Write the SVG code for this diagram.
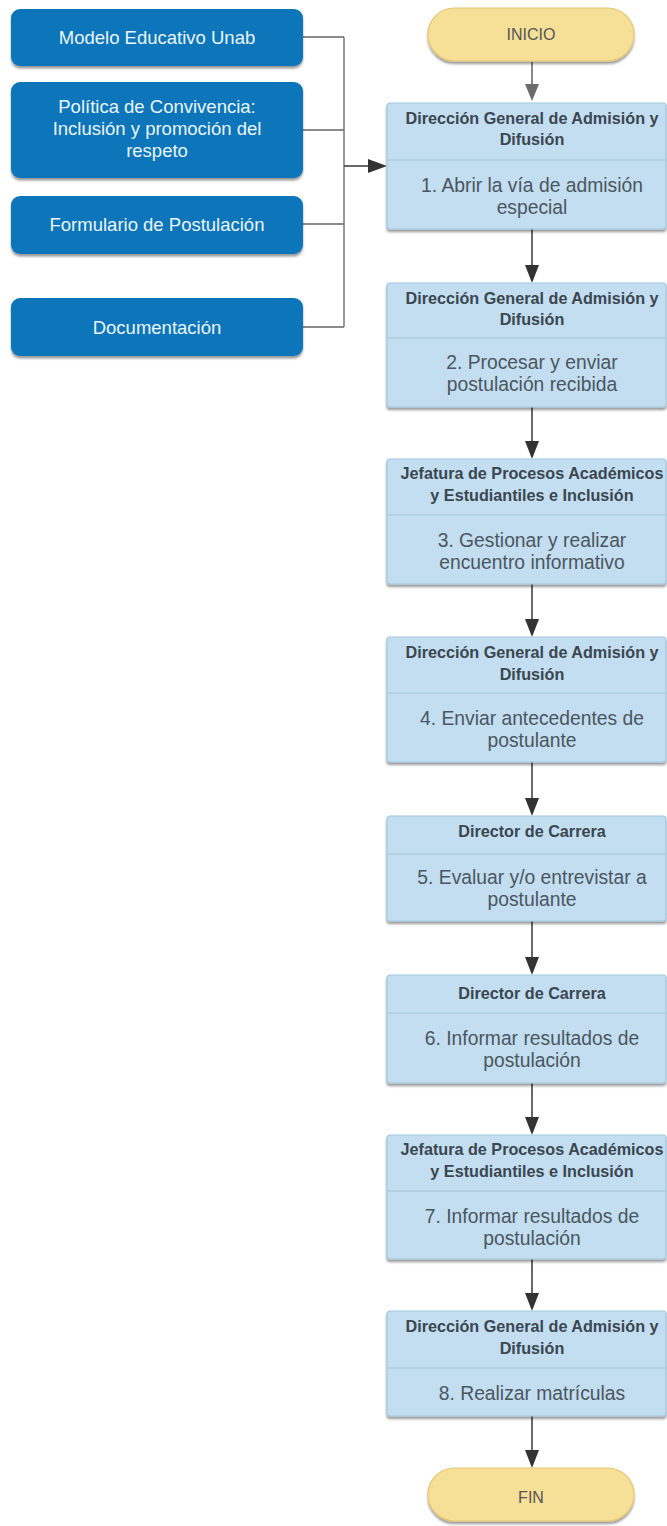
<svg xmlns="http://www.w3.org/2000/svg" width="667" height="1526" viewBox="0 0 667 1526">
<style>
.src{fill:#0e74b9;}
.srct{fill:#eaf5fc;font-family:"Liberation Sans",Arial,sans-serif;font-size:18.5px;text-anchor:middle;dominant-baseline:central;}
.box{fill:#c2def0;stroke:#a3c7de;stroke-width:1.2;}
.div{stroke:#9ec4dc;stroke-width:1.2;}
.hd{fill:#3b4650;font-family:"Liberation Sans",Arial,sans-serif;font-size:16.2px;font-weight:bold;text-anchor:middle;dominant-baseline:central;}
.bd{fill:#4b5660;font-family:"Liberation Sans",Arial,sans-serif;font-size:19.3px;text-anchor:middle;dominant-baseline:central;}
.pill{fill:#f6df96;stroke:#e6c772;stroke-width:1.2;}
.pt{fill:#555;font-family:"Liberation Sans",Arial,sans-serif;font-size:16px;text-anchor:middle;dominant-baseline:central;}
.ln{fill:none;stroke:#444;stroke-width:1.6;}
.lg{fill:none;stroke:#666;stroke-width:1.3;}
</style>
<defs>
<filter id="sh" x="-10%" y="-10%" width="120%" height="130%">
<feDropShadow dx="0" dy="2.5" stdDeviation="1.2" flood-color="#000" flood-opacity="0.4"/>
</filter>
</defs>

<g id="connectors">
<path class="lg" d="M303,37 H344 M303,130 H344 M303,224 H344 M303,327 H344 M344,37 V327"/>
<path d="M344,166 H368" class="ln"/>
<path d="M368,159 L387,166 L368,173 Z" fill="#333"/>
<line x1="532" y1="62" x2="532" y2="84" stroke="#6a6a6a" stroke-width="1.6"/>
<path d="M525,84 L532,101 L539,84 Z" fill="#6a6a6a"/>
<line x1="532" y1="229" x2="532" y2="266" class="ln"/>
<path d="M525,265 L532,283 L539,265 Z" fill="#333"/>
<line x1="532" y1="407" x2="532" y2="442" class="ln"/>
<path d="M525,441 L532,459 L539,441 Z" fill="#333"/>
<line x1="532" y1="584" x2="532" y2="620" class="ln"/>
<path d="M525,619 L532,637 L539,619 Z" fill="#333"/>
<line x1="532" y1="762" x2="532" y2="799" class="ln"/>
<path d="M525,798 L532,816 L539,798 Z" fill="#333"/>
<line x1="532" y1="921" x2="532" y2="958" class="ln"/>
<path d="M525,957 L532,975 L539,957 Z" fill="#333"/>
<line x1="532" y1="1083" x2="532" y2="1118" class="ln"/>
<path d="M525,1117 L532,1135 L539,1117 Z" fill="#333"/>
<line x1="532" y1="1259" x2="532" y2="1294" class="ln"/>
<path d="M525,1293 L532,1311 L539,1293 Z" fill="#333"/>
<line x1="532" y1="1416" x2="532" y2="1451" class="ln"/>
<path d="M525,1450 L532,1468 L539,1450 Z" fill="#333"/>
</g>

<g id="src1"><rect class="src" x="11" y="9" width="292" height="57" rx="9" filter="url(#sh)"/><text class="srct" x="157" y="37">Modelo Educativo Unab</text></g>
<g id="src2"><rect class="src" x="11" y="82" width="292" height="96" rx="9" filter="url(#sh)"/>
<text class="srct" x="157" y="106">Política de Convivencia:</text>
<text class="srct" x="157" y="128">Inclusión y promoción del</text>
<text class="srct" x="157" y="150">respeto</text></g>
<g id="src3"><rect class="src" x="11" y="196" width="292" height="58" rx="9" filter="url(#sh)"/><text class="srct" x="157" y="224">Formulario de Postulación</text></g>
<g id="src4"><rect class="src" x="11" y="298" width="292" height="58" rx="9" filter="url(#sh)"/><text class="srct" x="157" y="327">Documentación</text></g>

<g id="inicio"><rect class="pill" x="428" y="8" width="206" height="53" rx="26.5" filter="url(#sh)"/><text class="pt" x="531" y="34">INICIO</text></g>

<g id="step1"><rect class="box" x="387" y="103" width="279" height="126" rx="3" filter="url(#sh)"/><line class="div" x1="387" y1="160" x2="666" y2="160"/>
<text class="hd" x="532" y="118">Dirección General de Admisión y</text><text class="hd" x="532" y="139">Difusión</text>
<text class="bd" x="532" y="185">1. Abrir la vía de admisión</text><text class="bd" x="532" y="207">especial</text></g>

<g id="step2"><rect class="box" x="387" y="283" width="279" height="124" rx="3" filter="url(#sh)"/><line class="div" x1="387" y1="338" x2="666" y2="338"/>
<text class="hd" x="532" y="298">Dirección General de Admisión y</text><text class="hd" x="532" y="319">Difusión</text>
<text class="bd" x="532" y="362">2. Procesar y enviar</text><text class="bd" x="532" y="384">postulación recibida</text></g>

<g id="step3"><rect class="box" x="387" y="459" width="279" height="125" rx="3" filter="url(#sh)"/><line class="div" x1="387" y1="515" x2="666" y2="515"/>
<text class="hd" x="532" y="473">Jefatura de Procesos Académicos</text><text class="hd" x="532" y="495">y Estudiantiles e Inclusión</text>
<text class="bd" x="532" y="540">3. Gestionar y realizar</text><text class="bd" x="532" y="562">encuentro informativo</text></g>

<g id="step4"><rect class="box" x="387" y="637" width="279" height="125" rx="3" filter="url(#sh)"/><line class="div" x1="387" y1="693" x2="666" y2="693"/>
<text class="hd" x="532" y="652">Dirección General de Admisión y</text><text class="hd" x="532" y="674">Difusión</text>
<text class="bd" x="532" y="718">4. Enviar antecedentes de</text><text class="bd" x="532" y="740">postulante</text></g>

<g id="step5"><rect class="box" x="387" y="816" width="279" height="105" rx="3" filter="url(#sh)"/><line class="div" x1="387" y1="854" x2="666" y2="854"/>
<text class="hd" x="532" y="831">Director de Carrera</text>
<text class="bd" x="532" y="877">5. Evaluar y/o entrevistar a</text><text class="bd" x="532" y="899">postulante</text></g>

<g id="step6"><rect class="box" x="387" y="975" width="279" height="108" rx="3" filter="url(#sh)"/><line class="div" x1="387" y1="1013" x2="666" y2="1013"/>
<text class="hd" x="532" y="993">Director de Carrera</text>
<text class="bd" x="532" y="1038">6. Informar resultados de</text><text class="bd" x="532" y="1060">postulación</text></g>

<g id="step7"><rect class="box" x="387" y="1135" width="279" height="124" rx="3" filter="url(#sh)"/><line class="div" x1="387" y1="1191" x2="666" y2="1191"/>
<text class="hd" x="532" y="1149">Jefatura de Procesos Académicos</text><text class="hd" x="532" y="1171">y Estudiantiles e Inclusión</text>
<text class="bd" x="532" y="1216">7. Informar resultados de</text><text class="bd" x="532" y="1238">postulación</text></g>

<g id="step8"><rect class="box" x="387" y="1311" width="279" height="105" rx="3" filter="url(#sh)"/><line class="div" x1="387" y1="1368" x2="666" y2="1368"/>
<text class="hd" x="532" y="1326">Dirección General de Admisión y</text><text class="hd" x="532" y="1348">Difusión</text>
<text class="bd" x="532" y="1393">8. Realizar matrículas</text></g>

<g id="fin"><rect class="pill" x="428" y="1468" width="206" height="53" rx="26.5" filter="url(#sh)"/><text class="pt" x="531" y="1497">FIN</text></g>
</svg>
